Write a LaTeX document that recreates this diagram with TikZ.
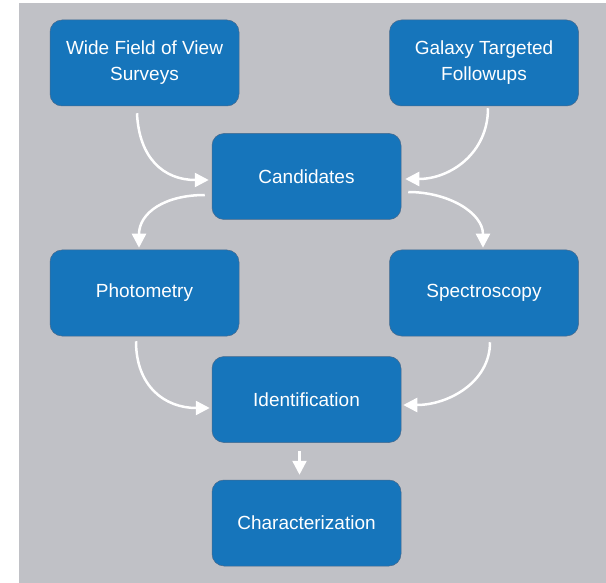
\documentclass[tikz,border=0pt]{standalone}
\usepackage{fontspec}
\setmainfont{Liberation Sans}
\usetikzlibrary{arrows.meta}
\definecolor{bgray}{RGB}{192,193,198}
\definecolor{boxblue}{RGB}{22,117,187}
\definecolor{boxedge}{RGB}{70,105,140}
\tikzset{
  stepbox/.style={rectangle, rounded corners=12pt, fill=boxblue, draw=boxedge, line width=0.5pt,
    minimum width=189pt, minimum height=86pt, inner sep=0pt, text=white, align=center,
    font=\fontsize{19}{26}\selectfont},
  arr/.style={draw=white, line width=2.5pt, -{Triangle[length=14pt,width=14pt]}}
}
\begin{document}
\begin{tikzpicture}[x=1pt,y=-1pt]
\useasboundingbox (0,0) rectangle (606,583);
\fill[bgray] (19,3) rectangle (606,583);
\node[stepbox] (wf) at (144.5,63) {Wide Field of View\\Surveys};
\node[stepbox] (gal) at (484,63) {Galaxy Targeted\\Followups};
\node[stepbox] (cand) at (306.5,176.5) {Candidates};
\node[stepbox] (phot) at (144.5,293) {Photometry};
\node[stepbox] (spec) at (484,293) {Spectroscopy};
\node[stepbox] (iden) at (306.5,399.5) {Identification};
\node[stepbox] (char) at (306.5,523) {Characterization};
\draw[arr] ([xshift=-7.5pt,yshift=-7pt]wf.south) .. controls +(2,45) and +(-45,0) .. ([xshift=-3pt,yshift=-3.5pt]cand.west);
\draw[arr] ([xshift=4pt,yshift=-2pt]gal.south) .. controls +(0,45) and +(45,0) .. ([xshift=4pt,yshift=-2.5pt]cand.east);
\draw[arr] ([xshift=-7pt,yshift=-18.5pt]cand.west) .. controls +(-40,0) and +(0,-35) .. ([xshift=-5.5pt,yshift=2pt]phot.north);
\draw[arr] ([xshift=7pt,yshift=-15.5pt]cand.east) .. controls +(40,0) and +(0,-35) .. ([xshift=-1pt,yshift=2pt]spec.north);
\draw[arr] ([xshift=-8.5pt,yshift=-5pt]phot.south) .. controls +(0,45) and +(-45,0) .. ([xshift=-2pt,yshift=-8.5pt]iden.west);
\draw[arr] ([xshift=6pt,yshift=-6pt]spec.south) .. controls +(0,40) and +(45,0) .. ([xshift=2pt,yshift=-5.5pt]iden.east);
\draw[arr] ([xshift=-7pt,yshift=-8pt]iden.south) -- ([xshift=-7pt,yshift=5pt]char.north);
\end{tikzpicture}
\end{document}
